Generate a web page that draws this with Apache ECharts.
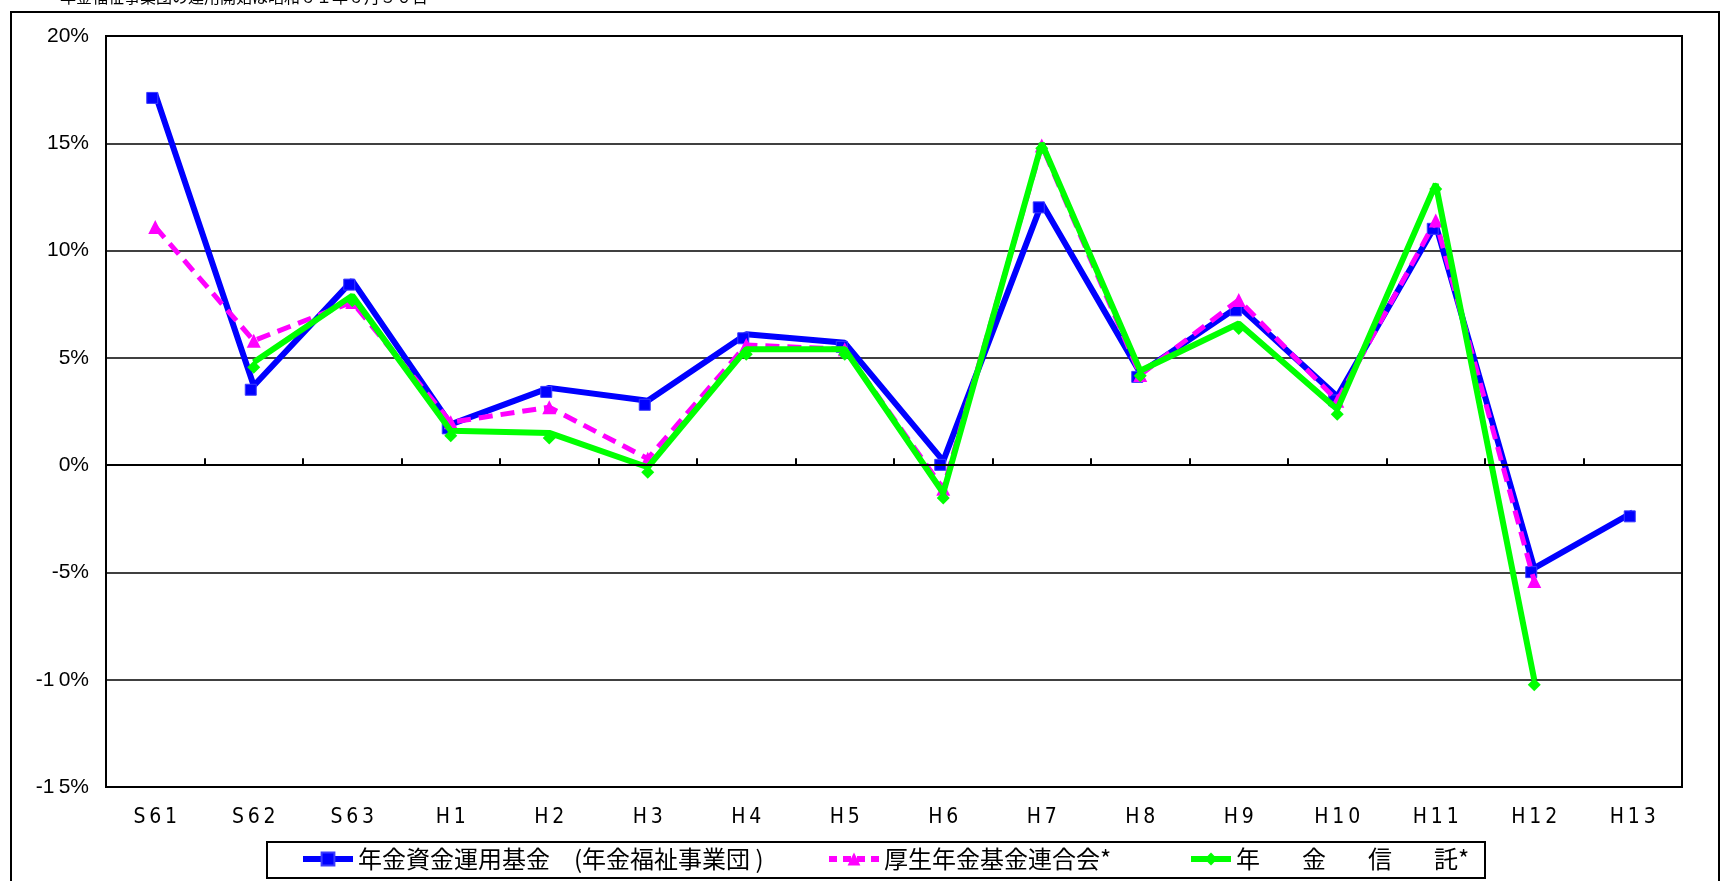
<!DOCTYPE html>
<html>
<head>
<meta charset="utf-8">
<title>運用利回りの推移</title>
<script src="https://cdn.jsdelivr.net/npm/echarts@6/dist/echarts.min.js"></script>
<style>
  html, body { margin: 0; padding: 0; background: #fff; }
  #chart { width: 1722px; height: 881px; }
</style>
</head>
<body>
<div id="chart"></div>
<script>
// 年度ラベル（昭和61年度〜平成13年度）
const years = ['S61', 'S62', 'S63', 'H1', 'H2', 'H3', 'H4', 'H5', 'H6', 'H7', 'H8', 'H9', 'H10', 'H11', 'H12', 'H13'];

// 運用利回り（%）
const pensionFund = [17.3, 3.7, 8.6, 1.9, 3.6, 3.0, 6.1, 5.7, 0.2, 12.2, 4.3, 7.4, 3.2, 11.2, -4.8, -2.2];
const kikinRengokai = [11.1, 5.8, 7.6, 2.0, 2.7, 0.3, 5.6, 5.4, -1.1, 14.9, 4.2, 7.7, 3.0, 11.4, -5.4, null];
const nenkinShintaku = [null, 4.8, 7.9, 1.6, 1.5, -0.1, 5.4, 5.4, -1.3, 15.0, 4.4, 6.6, 2.6, 13.1, -10.0, null];

// 系列名
const seriesNames = ['年金資金運用基金　(年金福祉事業団 )', '厚生年金基金連合会*', '年　　金　　信　　託*'];

// 縦軸の目盛り
const yMin = -15, yMax = 20, yStep = 5;

const chart = echarts.init(document.getElementById('chart'));

const spaced = s => s.split('').join('\u2009');

function legendAt(name, left, lineType, iconWidth) {
  return {
    data: [name],
    left: left,
    top: 847,
    itemWidth: iconWidth,
    itemHeight: 16,
    itemGap: 4,
    padding: 0,
    selectedMode: false,
    lineStyle: { width: 6, type: lineType },
    // 全角二文字分の間隔をやや詰めて表示する
    formatter: n => n.replace(/　　/g, '\u2003\u2002\u2005'),
    textStyle: { color: '#000', fontSize: 24, fontFamily: 'Noto Sans CJK JP' }
  };
}

chart.setOption({
  animation: false,
  backgroundColor: '#fff',
  graphic: [
    {
      type: 'rect',
      shape: { x: 11, y: 12, width: 1708, height: 900 },
      style: { fill: 'none', stroke: '#000', lineWidth: 2 },
      z: 0
    },
    {
      type: 'text',
      x: 60, y: -11,
      style: {
        text: '年金福祉事業団の運用開始は昭和６１年６月３０日',
        font: '16px "Noto Sans CJK JP"',
        fill: '#000',
        verticalAlign: 'top'
      }
    },
    {
      type: 'rect',
      shape: { x: 267, y: 842, width: 1218, height: 36 },
      style: { fill: '#fff', stroke: '#000', lineWidth: 2 },
      z: 1
    }
  ],
  legend: [
    legendAt(seriesNames[0], 300, 'solid', 50),
    legendAt(seriesNames[1], 826, [8, 6], 50),
    legendAt(seriesNames[2], 1188, 'solid', 40)
  ],
  grid: {
    left: 106, right: 40, top: 36, bottom: 94,
    show: true, borderColor: '#000', borderWidth: 2, backgroundColor: '#fff'
  },
  xAxis: [
    {
      type: 'category',
      data: years,
      position: 'bottom',
      boundaryGap: true,
      axisLine: { onZero: true, lineStyle: { color: '#000', width: 2 } },
      axisTick: { show: true, inside: true, length: 7, lineStyle: { color: '#000', width: 2 } },
      axisLabel: { show: false },
      splitLine: { show: false },
      z: 5
    },
    {
      type: 'category',
      data: years,
      position: 'bottom',
      boundaryGap: true,
      axisLine: { show: false, onZero: false },
      axisTick: { show: false },
      axisLabel: {
        show: true,
        margin: 20,
        color: '#000',
        fontSize: 21,
        fontFamily: '"DejaVu Sans Condensed", "DejaVu Sans", sans-serif',
        formatter: v => spaced(v)
      },
      splitLine: { show: false }
    }
  ],
  yAxis: {
    type: 'value',
    min: yMin, max: yMax, interval: yStep,
    axisLine: { show: true, lineStyle: { color: '#000', width: 2 } },
    axisTick: { show: false },
    axisLabel: {
      margin: 17,
      color: '#000',
      fontSize: 21,
      fontFamily: '"Liberation Sans", Arial, sans-serif',
      formatter: v => (v < 0 ? '-' + spaced(String(-v)) : String(v)) + '%'
    },
    splitLine: { show: true, lineStyle: { color: '#000', width: 1.5 } }
  },
  series: [
    {
      name: seriesNames[0],
      type: 'line',
      data: pensionFund,
      symbol: 'rect',
      symbolSize: 11,
      symbolOffset: [-3, 4],
      lineStyle: { color: '#0000ff', width: 6 },
      itemStyle: { color: '#0000ff', borderColor: '#3b3bff', borderWidth: 1 },
      z: 2
    },
    {
      name: seriesNames[1],
      type: 'line',
      data: kikinRengokai,
      symbol: 'triangle',
      symbolSize: 14,
      lineStyle: { color: '#ff00ff', width: 5, type: [14, 8], cap: 'butt' },
      itemStyle: { color: '#ff00ff' },
      z: 3
    },
    {
      name: seriesNames[2],
      type: 'line',
      data: nenkinShintaku,
      symbol: 'diamond',
      symbolSize: 13,
      symbolOffset: [0, 5],
      lineStyle: { color: '#00ff00', width: 6 },
      itemStyle: { color: '#00ff00' },
      z: 4
    }
  ]
});
</script>
</body>
</html>
